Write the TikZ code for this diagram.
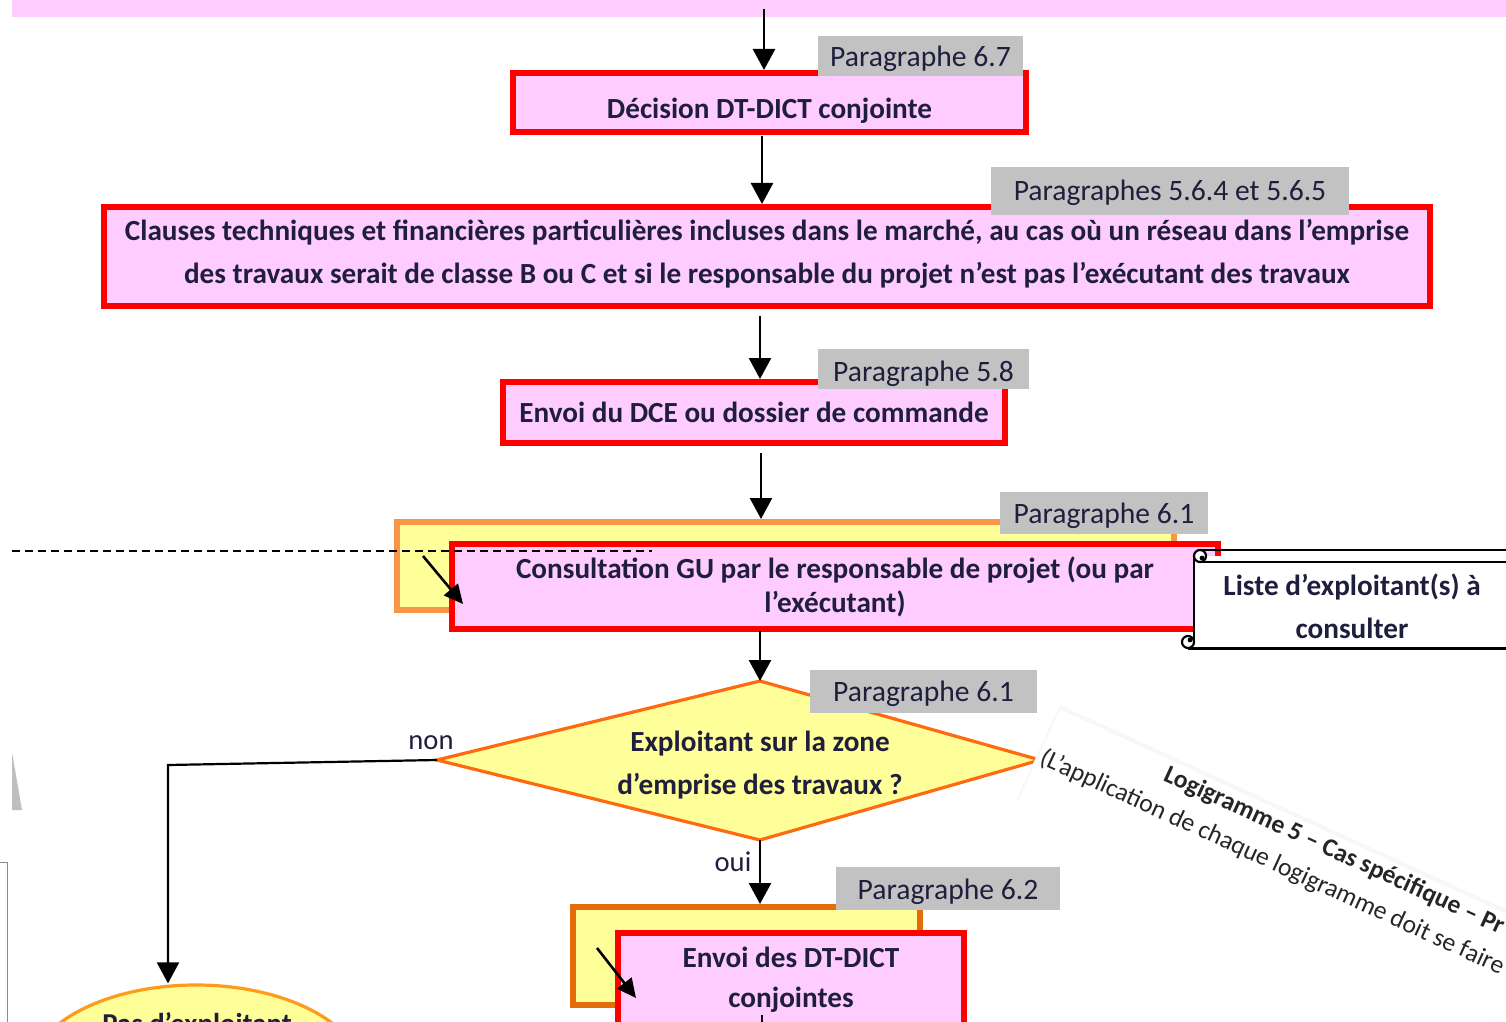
\documentclass[tikz,border=0pt]{standalone}
\usepackage{fontspec}
\setmainfont{Carlito}
\usetikzlibrary{arrows.meta,shapes.geometric}
\definecolor{pinkf}{HTML}{FFCCFF}
\definecolor{redb}{HTML}{FF0000}
\definecolor{yel}{HTML}{FFFF99}
\definecolor{orl}{HTML}{F79646}
\definecolor{ord}{HTML}{E46C0A}
\definecolor{ordia}{HTML}{FF6A10}
\definecolor{orell}{HTML}{FF9A1A}
\definecolor{grayl}{HTML}{C2C2C2}
\definecolor{txt}{HTML}{1F1F3D}
\newcommand{\shiftv}[2]{\raisebox{#1}[\height][\depth]{#2}}
\begin{document}
\begin{tikzpicture}[x=0.5pt,y=-0.5pt,
  box/.style={draw=redb, fill=pinkf, line width=3pt, inner sep=0pt, align=center,
    font=\bfseries\fontsize{14.6}{21.5}\selectfont, text=txt},
  back/.style={draw=orl, fill=yel, line width=3pt, inner sep=0pt},
  para/.style={fill=grayl, inner sep=0pt, font=\fontsize{14.8}{17}\selectfont, text=txt},
  arr/.style={line width=1.3pt, -{Triangle[length=10.5pt,width=11pt]}},
  sarr/.style={line width=1.3pt, -{Triangle[length=9.5pt,width=9pt]}},
  lbl/.style={font=\fontsize{14.3}{16}\selectfont, text=txt, inner sep=0pt},
  rot/.style={rotate=-24.6, anchor=base west, inner sep=0pt, text=black!85},
  btxt/.style={font=\bfseries\fontsize{14.6}{21.5}\selectfont, text=txt, align=center, inner sep=0pt},
]
\useasboundingbox (0,0) rectangle (1506,1022);
\clip (0,0) rectangle (1506,1022);

% left edge artifacts
\fill[black!25] (12,752) -- (22,810) -- (12,810) -- cycle;
\draw[black!45, line width=0.4pt] (0,862) -- (7,862) -- (7,1030);

% top band
\node[fill=pinkf, inner sep=0pt, minimum width=749pt, minimum height=18.5pt] (topb) at (761,-1.5) {};

% boxes
\node[box, minimum width=256.5pt, minimum height=29.5pt] (dec) at (769.5,102.5) {\shiftv{-4pt}{Décision DT-DICT conjointe}};
\node[box, minimum width=663pt, minimum height=49.5pt] (cl) at (767,256.5) {\shiftv{1.5pt}{\begin{tabular}{@{}c@{}}Clauses techniques et financières particulières incluses dans le marché, au cas où un réseau dans l’emprise\\des travaux serait de classe B ou C et si le responsable du projet n’est pas l’exécutant des travaux\end{tabular}}};
\node[box, minimum width=251pt, minimum height=30.5pt] (dce) at (754,412.5) {Envoi du DCE ou dossier de commande};

\node[back, minimum width=388.5pt, minimum height=44pt] (back1) at (785.5,566) {};
\node[box, minimum width=383pt, minimum height=42.5pt, font=\bfseries\fontsize{14.6}{17}\selectfont] (cons) at (835,586.5) {Consultation GU par le responsable de projet (ou par\\l’exécutant)};

% scroll
\fill[white] (1194,556) rectangle (1510,648);
\draw[line width=1.1pt] (1200,550) -- (1510,550);
\draw[line width=1.1pt] (1200,562) -- (1510,562);
\draw[line width=1.1pt] (1194,556) -- (1194,642);
\draw[line width=1.5pt] (1188,648) -- (1510,648);
\draw[line width=1.1pt, fill=white] (1200,556) circle[radius=3pt];
\fill (1202,558) circle[radius=1.2pt];
\draw[line width=1.1pt, fill=white] (1188,642) circle[radius=3pt];
\fill (1190,640) circle[radius=1.2pt];
\node[btxt] (liste) at (1352,606) {Liste d’exploitant(s) à\\consulter};

% diamond
\coordinate (dL) at (437,760);
\coordinate (dT) at (760,681);
\coordinate (dR) at (1040,760);
\coordinate (dB) at (760,840);
\fill[yel] (dL) -- (dT) -- (dR) -- (dB) -- cycle;
\draw[ordia, line width=1.6pt, line join=miter] (dL) -- (dT) -- (dR) -- (dB) -- cycle;
\node[btxt] (dia) at (760,765) {Exploitant sur la zone\\d’emprise des travaux ?};

% second group
\node[back, draw=ord, minimum width=173.5pt, minimum height=49pt] (back2) at (746.5,956) {};
\node[box, minimum width=173pt, minimum height=53.5pt] (envoi) at (791,986.5) {};
\node[btxt, font=\bfseries\fontsize{14.6}{20}\selectfont] (envoiT) at (791,980) {Envoi des DT-DICT\\conjointes};

% ellipse
\node[ellipse, draw=orell, fill=yel, line width=1.6pt, minimum width=168pt, minimum height=92pt, inner sep=0pt] (ell) at (196,1077) {};
\node[font=\bfseries\fontsize{14.4}{16}\selectfont, text=txt, anchor=base, inner sep=0pt] (ellT) at (197,1033) {Pas d’exploitant};

% paragraph labels
\node[para, minimum width=102.5pt, minimum height=20pt] (p1) at (920.5,56) {\shiftv{-1.5pt}{Paragraphe 6.7}};
\node[para, minimum width=179pt, minimum height=24pt] (p2) at (1170,191) {\shiftv{-1pt}{Paragraphes 5.6.4 et 5.6.5}};
\node[para, minimum width=105.5pt, minimum height=20pt] (p3) at (923.5,369) {\shiftv{-2.5pt}{Paragraphe 5.8}};
\node[para, minimum width=104pt, minimum height=21pt] (p4) at (1104,513) {\shiftv{-1.5pt}{Paragraphe 6.1}};
\node[para, minimum width=113.5pt, minimum height=21.5pt] (p5) at (923.5,691.5) {\shiftv{-1pt}{Paragraphe 6.1}};
\node[para, minimum width=112pt, minimum height=21.5pt] (p6) at (948,888.5) {\shiftv{-1.5pt}{Paragraphe 6.2}};

% connectors
\coordinate (s0) at (764,9);
\draw[arr] (s0) -- (s0 |- dec.north);
\coordinate (s1) at (762,136);
\draw[arr] (s1) -- (s1 |- cl.north);
\coordinate (s2) at (760,316);
\draw[arr] (s2) -- (s2 |- dce.north);
\coordinate (s3) at (761,453);
\draw[arr] (s3) -- (s3 |- back1.north);
\coordinate (s4) at (760,631);
\draw[arr] (s4) -- (dT);
\draw[arr] (dB) -- (dB |- back2.north);
\coordinate (c1) at (168,765);
\draw[arr, line width=1.1pt] (dL) -- (c1) -- (c1 |- ell.north);
\coordinate (s6) at (762,1015);
\coordinate (s6e) at (762,1040);
\draw[line width=1.3pt] (s6) -- (s6e);

\node[lbl] (non) at (431,743) {non};
\node[lbl] (oui) at (733,862) {oui};

% small diagonal arrows
\coordinate (q1) at (423,556);
\coordinate (q1e) at (463,604);
\draw[sarr] (q1) -- (q1e);
\coordinate (q2) at (597,948);
\coordinate (q2e) at (636,998);
\draw[sarr] (q2) -- (q2e);

% dashed line
\coordinate (d1) at (12,551);
\coordinate (d2) at (652,551);
\draw[line width=0.8pt, dash pattern=on 4pt off 2.5pt] (d1) -- (d2);

% rotated overlay
\begin{scope}[shift={(1035,764)}, rotate=-24.6]
  \fill[black!3] (-2,-64) rectangle (900,40);
  \fill[white] (0,-60) rectangle (900,40);
\end{scope}
\node[rot, font=\fontsize{12.8}{14}\selectfont] (sub) at (1038,763) {(L’application de chaque logigramme doit se faire};
\node[rot, font=\bfseries\fontsize{12.8}{14}\selectfont] (ttl) at (1162,780) {Logigramme 5 – Cas spécifique – Pr};
\end{tikzpicture}
\end{document}
